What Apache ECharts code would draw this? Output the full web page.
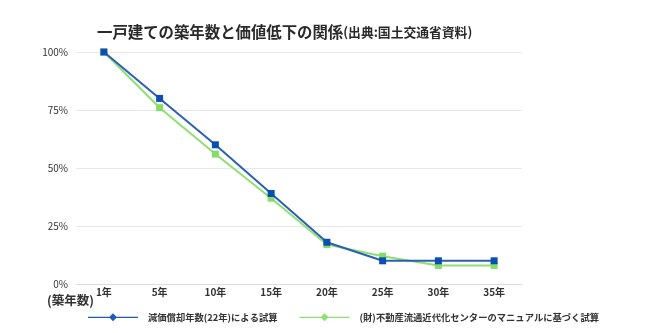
<!DOCTYPE html>
<html><head><meta charset="utf-8">
<script src="https://cdn.jsdelivr.net/npm/echarts@6/dist/echarts.min.js"></script>
<style>html,body{margin:0;padding:0;background:#fff}#c{width:650px;height:333px}</style>
</head><body><div id="c"></div>
<script>
const categories = ['1年','5年','10年','15年','20年','25年','30年','35年'];
const seriesNames = ['減価償却年数(22年)による試算','(財)不動産流通近代化センターのマニュアルに基づく試算'];
const blueValues = [100, 80, 60, 39, 18, 10, 10, 10];
const greenValues = [100, 76, 56, 37, 17, 12, 8, 8];
const yTicks = [0, 25, 50, 75, 100];

const FONT = '"Noto Sans CJK JP", "Noto Sans", sans-serif';
const legendIcon = 'path://M0,4.4H50V5.6H0Z M25,1L29,5L25,9L21,5Z';
const chart = echarts.init(document.getElementById('c'));
chart.setOption({
  animation: false,
  title: {
    text: '{a|一戸建ての築年数と価値低下の関係}{b|(出典:国土交通省資料)}',
    left: 92, top: 19,
    textStyle: {
      fontFamily: FONT,
      rich: {
        a: {fontSize: 15.4, fontWeight: 'bold', color: '#2a2a2a', fontFamily: FONT},
        b: {fontSize: 12.8, fontWeight: 'bold', color: '#2a2a2a', fontFamily: FONT}
      }
    }
  },
  legend: {
    bottom: 6, left: 83,
    itemWidth: 50, itemGap: 22, itemHeight: 10,
    textStyle: {fontFamily: FONT, fontSize: 9.3, fontWeight: 'bold', color: '#333', padding: [0, 0, 0, 5]},
    data: [
      {name: seriesNames[0], icon: legendIcon, itemStyle: {color: '#1f5bb5'}},
      {name: seriesNames[1], icon: legendIcon, itemStyle: {color: '#8fdf73'}}
    ]
  },
  graphic: [{
    type: 'text', left: 47, top: 294,
    style: {text: '(築年数)', font: 'bold 12.5px ' + FONT, fill: '#333'}
  }],
  grid: {left: 76, right: 128, top: 52, bottom: 49},
  xAxis: {
    type: 'category', data: categories, boundaryGap: true,
    axisLine: {lineStyle: {color: '#dcdcdc'}},
    axisTick: {show: false},
    axisLabel: {fontFamily: FONT, fontSize: 10, fontWeight: 'bold', color: '#333', margin: 3}
  },
  yAxis: {
    type: 'value', min: 0, max: 100, interval: 25,
    axisLabel: {formatter: v => yTicks.includes(v) ? v + '%' : '', fontFamily: FONT, fontSize: 10, color: '#333', margin: 8},
    splitLine: {lineStyle: {color: '#e8e8e8'}},
    axisLine: {show: false}, axisTick: {show: false}
  },
  series: [
    {name: seriesNames[0], type: 'line', data: blueValues, symbol: 'rect', symbolSize: 7,
     lineStyle: {color: '#2b5fb4', width: 2}, itemStyle: {color: '#0b4fb0'}, z: 3},
    {name: seriesNames[1], type: 'line', data: greenValues, symbol: 'rect', symbolSize: 7,
     lineStyle: {color: '#8fdf73', width: 2}, itemStyle: {color: '#86dc6a'}, z: 2}
  ]
});
</script></body></html>
